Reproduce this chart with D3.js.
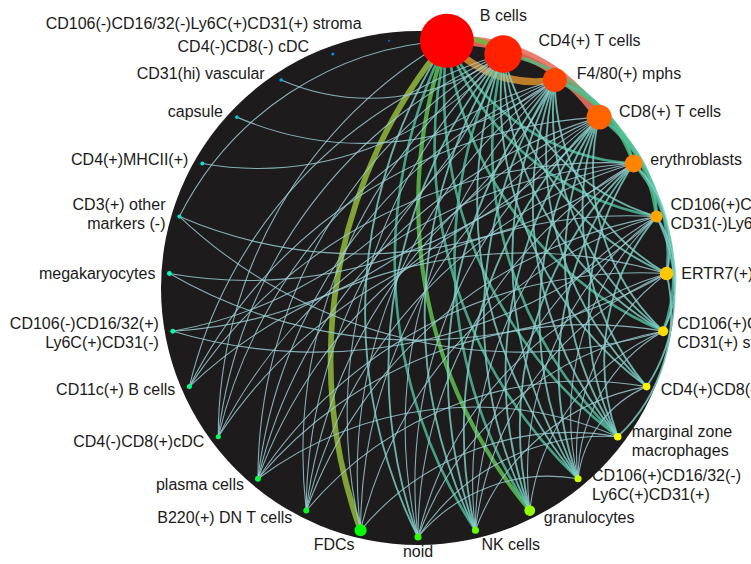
<!DOCTYPE html>
<html>
<head>
<meta charset="utf-8">
<script src="https://cdn.jsdelivr.net/npm/d3@7"></script>
<style>
  html, body { margin: 0; padding: 0; background: #ffffff; overflow: hidden; }
  svg { display: block; }
  text { font-family: "Liberation Sans", Arial, Helvetica, sans-serif; font-size: 16px; fill: #1a1a1a; }
</style>
</head>
<body>
<svg id="chart" width="751" height="564"></svg>
<script>
// Cell populations in ring order, clockwise from the top
const cellTypes = [
  "B cells", "CD4(+) T cells", "F4/80(+) mphs", "CD8(+) T cells", "erythroblasts",
  "CD106(+)CD16/32(+)\nCD31(-)Ly6C(-)", "ERTR7(+) stroma", "CD106(+)CD16/32(-)Ly6C(-)\nCD31(+) stroma",
  "CD4(+)CD8(-) cDC", "marginal zone\nmacrophages", "CD106(+)CD16/32(-)\nLy6C(+)CD31(+)",
  "granulocytes", "NK cells", "noid", "FDCs", "B220(+) DN T cells", "plasma cells",
  "CD4(-)CD8(+)cDC", "CD11c(+) B cells", "CD106(-)CD16/32(+)\nLy6C(+)CD31(-)",
  "megakaryocytes", "CD3(+) other\nmarkers (-)", "CD4(+)MHCII(+)", "capsule",
  "CD31(hi) vascular", "CD4(-)CD8(-) cDC", "CD106(-)CD16/32(-)Ly6C(+)CD31(+) stroma"
];

// Relative abundance of each population (%), sets node area
const abundance = [
  38.0, 18.4, 7.5, 8.1, 4.2, 1.9, 2.4, 1.3, 0.75, 0.75, 0.65, 1.5, 0.65, 0.65, 1.9,
  0.45, 0.45, 0.33, 0.33, 0.30, 0.30, 0.22, 0.20, 0.17, 0.17, 0.12, 0.05
];

// Directed interactions: [source, target, strength]
const interactions = [
  // strongest links and the rim links between neighbouring populations
  [3,0,12], [0,2,9], [1,0,6], [0,14,7], [0,11,5],
  [4,1,4], [5,2,4], [6,3,3], [7,4,3], [8,5,2], [6,4,2], [9,6,2], [7,5,2], [5,3,3], [4,2,3],
  // among the abundant populations
  [0,9,3], [0,10,3], [1,9,3], [0,12,3], [1,11,3], [0,7,3], [0,5,3],
  [1,10,2], [0,13,2], [1,12,2], [2,9,2], [2,10,2], [3,9,2], [3,10,2], [1,6,2], [1,7,2],
  [2,7,2], [2,8,2], [3,8,2], [1,8,2], [2,11,2], [3,11,2], [0,4,3], [1,5,2], [2,6,2], [3,7,2],
  [4,9,2], [5,9,2], [4,10,2], [4,11,2],
  // lower ring
  [2,12,2], [3,12,2], [4,12,1], [5,12,1], [6,12,1], [8,12,1],
  [1,13,2], [2,13,1], [3,13,1], [4,13,1], [6,13,1], [7,13,1],
  [1,14,1], [2,14,1], [3,14,1], [5,14,1], [9,14,1],
  [1,15,1], [2,15,1], [3,15,1], [4,15,1], [5,15,1], [8,15,1],
  [1,16,1], [2,16,1], [3,16,1], [4,16,1], [6,16,1], [7,16,1], [9,16,1],
  [0,17,1], [1,17,1], [2,17,1], [4,17,1], [5,17,1],
  [1,18,1], [3,18,1], [4,18,1], [6,18,1],
  // left ring
  [19,1,1], [19,2,1], [19,5,1],
  [20,3,1], [20,6,1],
  [0,21,1], [21,4,1], [21,7,1],
  [22,1,1], [23,2,1], [24,1,1],
  // right ring
  [5,10,1], [6,9,1], [6,10,1], [7,10,1],
  [7,11,1], [8,10,1], [9,13,1], [10,13,1], [5,11,1]
];

const width = 751, height = 564;
const cx = 418, cy = 288;
const ringR = 249, discR = 257;

const svg = d3.select("#chart");
const g = svg.append("g").attr("transform", `translate(${cx},${cy})`);

// angular position of each population on the ring
const angle = d3.scaleBand()
  .domain(d3.range(cellTypes.length))
  .range([0, 2 * Math.PI])
  .paddingInner(0);
const theta = i => angle(i) + angle.bandwidth() / 2;

const radius = d3.scaleSqrt().domain([0, d3.max(abundance)]).range([0, 27]);

// node colour follows ring rank: red -> yellow -> green -> cyan -> blue
const hue = d3.scaleLinear().domain([0, 6, 9, 14, 26]).range([0, 47, 62, 120, 210]);
const nodeColor = i => d3.hsl(hue(i), 1, i > 20 ? 0.45 : 0.5).formatHex();

const nodes = cellTypes.map((name, i) => {
  const a = theta(i);
  return {
    i, name, a,
    x: ringR * Math.sin(a),
    y: -ringR * Math.cos(a),
    r: radius(abundance[i])
  };
});

// dark disc
g.append("circle").attr("r", discR).attr("fill", "#1d1b1b");

// edge styling by interaction strength
const edgeColor = d3.scaleLinear()
  .domain([1, 2, 3, 4, 5, 7, 9, 12])
  .range(["#9fd0d8", "#7fd2c8", "#52c09e", "#4fbf7c", "#5cb84c", "#8db13a", "#cf8a2c", "#e8705e"]);
const edgeWidth = d3.scaleLinear().domain([1, 12]).range([1.1, 9.5]);

// unique pairs, drawn heaviest first
const seen = new Set();
const links = interactions
  .filter(([s, t]) => {
    const k = Math.min(s, t) + "-" + Math.max(s, t);
    if (seen.has(k)) return false;
    seen.add(k);
    return true;
  })
  .map(([s, t, w]) => ({ s: nodes[s], t: nodes[t], w }))
  .sort((a, b) => b.w - a.w);

// each link bends to the right of its source -> target direction
function arcPath(d) {
  const dx = d.t.x - d.s.x, dy = d.t.y - d.s.y;
  const dr = Math.sqrt(dx * dx + dy * dy);
  return `M${d.s.x},${d.s.y}A${dr},${dr} 0 0,0 ${d.t.x},${d.t.y}`;
}

g.append("g")
  .attr("fill", "none")
  .selectAll("path")
  .data(links)
  .join("path")
  .attr("d", arcPath)
  .attr("stroke", d => edgeColor(d.w))
  .attr("stroke-width", d => edgeWidth(d.w))
  .attr("stroke-opacity", d => d.w >= 5 ? 0.9 : 0.82)
  .attr("stroke-linecap", "round");

g.append("g")
  .selectAll("circle")
  .data(nodes)
  .join("circle")
  .attr("cx", d => d.x)
  .attr("cy", d => d.y)
  .attr("r", d => d.r)
  .attr("fill", d => nodeColor(d.i));

// labels sit beside their node, on the outer side of the ring
g.append("g")
  .selectAll("text")
  .data(nodes)
  .join("text")
  .each(function (d) {
    const s = Math.sin(d.a), c = Math.cos(d.a);
    const side = Math.abs(s) < 0.05 ? 0 : Math.sign(s);
    let lx, ly;
    if (c < -0.95) {
      lx = d.x + side * 6;
      ly = d.y + 14;
    } else {
      const topPush = d.r < 20 ? 14 * Math.max(0, c - 0.8) / 0.2 : 0;
      const topLift = d.r < 5 ? 12 * Math.max(0, c - 0.97) / 0.03 : 0;
      lx = d.x + side * (14 + topPush + Math.max(0, d.r - 6) * 0.9);
      ly = d.y - c * (8 + Math.max(0, d.r - 14) * 1.3) - topLift;
    }
    const anchor = side > 0 ? "start" : side < 0 ? "end" : "middle";
    const lines = d.name.split("\n");
    const el = d3.select(this).attr("text-anchor", anchor);
    lines.forEach((ln, k) => {
      el.append("tspan")
        .attr("x", lx)
        .attr("y", ly + (k - (lines.length - 1) / 2) * 19)
        .attr("dominant-baseline", "central")
        .text(ln);
    });
  });
</script>
</body>
</html>
